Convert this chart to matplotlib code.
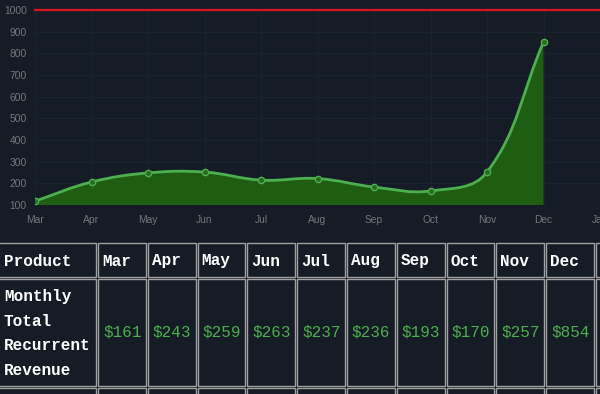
import numpy as np
import matplotlib.pyplot as plt
from matplotlib.path import Path
from matplotlib.patches import PathPatch, Rectangle

# chart data
months = ["Mar", "Apr", "May", "Jun", "Jul", "Aug", "Sep", "Oct", "Nov", "Dec", "Jan"]
mrr_chart = [118, 206, 248, 252, 215, 222, 183, 165, 252, 852]
target = 1000

# table data
table_months = ["Mar", "Apr", "May", "Jun", "Jul", "Aug", "Sep", "Oct", "Nov", "Dec"]
table_values = [161, 243, 259, 263, 237, 236, 193, 170, 257, 854]
row_label = ["Monthly", "Total", "Recurrent", "Revenue"]

bg = "#151c26"
fill_green = "#1f5d12"
line_green = "#4caf50"
grid_col = "#1b232e"
tick_col = "#74777c"
border_col = "#a0a0a0"

W, H = 600, 394
fig = plt.figure(figsize=(W/100, H/100), dpi=100, facecolor=bg)

# ---- line chart ----
ax = fig.add_axes([35/W, 1 - 205/H, 1 - 35/W, (205 - 10)/H])
ax.set_facecolor(bg)
ax.set_xlim(0, len(months) - 1)
ax.set_ylim(100, 1000)
ax.set_xticks(range(len(months)))
ax.set_xticklabels(months)
ax.set_yticks(np.arange(100, 1001, 100))
for s in ax.spines.values():
    s.set_visible(False)
ax.tick_params(length=0, colors=tick_col, labelsize=7.4, pad=7)
ax.tick_params(axis="y", pad=6)
for lab in ax.get_xticklabels() + ax.get_yticklabels():
    lab.set_family("Liberation Sans")
ax.grid(True, color=grid_col, lw=0.8)
ax.set_axisbelow(True)

# smooth curve like chart.js (tension 0.4), built in display space
x = np.arange(len(mrr_chart))
pts = ax.transData.transform(np.column_stack([x, mrr_chart]))
n = len(pts)
tension = 0.4
cp_prev = np.zeros_like(pts)
cp_next = np.zeros_like(pts)
for i in range(n):
    prev = pts[max(i - 1, 0)]
    cur = pts[i]
    nxt = pts[min(i + 1, n - 1)]
    d01 = np.hypot(*(cur - prev))
    d12 = np.hypot(*(nxt - cur))
    tot = d01 + d12
    fa = tension * d01 / tot if tot else 0
    fb = tension * d12 / tot if tot else 0
    cp_prev[i] = cur - fa * (nxt - prev)
    cp_next[i] = cur + fb * (nxt - prev)

verts = [pts[0]]
codes = [Path.MOVETO]
for i in range(n - 1):
    verts += [cp_next[i], cp_prev[i + 1], pts[i + 1]]
    codes += [Path.CURVE4] * 3
inv = ax.transData.inverted()
verts_d = inv.transform(np.array(verts))

line_path = Path(verts_d, codes)
fill_verts = np.vstack([verts_d, [[x[-1], 100], [x[0], 100], verts_d[0]]])
fill_codes = codes + [Path.LINETO, Path.LINETO, Path.CLOSEPOLY]
ax.add_patch(PathPatch(Path(fill_verts, fill_codes), facecolor=fill_green, edgecolor="none", zorder=2))
ax.add_patch(PathPatch(line_path, facecolor="none", edgecolor=line_green, lw=2.0, zorder=3))
ax.plot(x, mrr_chart, "o", ms=4.5, mfc="#2b6a22", mec=line_green, mew=1.0, zorder=4)

ax.axhline(target, color="#d9141e", lw=1.6, zorder=5, clip_on=False)

# ---- table ----
tb = fig.add_axes([0, 0, 1, 1])
tb.set_xlim(0, W)
tb.set_ylim(H, 0)
tb.axis("off")
tb.patch.set_alpha(0)

col_w = 49.8
gap = 2
rows = [(243, 277), (279, 386), (388, 420)]
col_edges = [(-4, 96)]
for k in range(len(table_months) + 1):
    left = 98 + k * col_w
    col_edges.append((left, left + col_w - gap))

for (y0, y1) in rows:
    for (x0, x1) in col_edges:
        tb.add_patch(Rectangle((x0, y0), x1 - x0, y1 - y0, facecolor=bg,
                               edgecolor=border_col, lw=1.0))

mono = "Liberation Mono"
hy = (rows[0][0] + rows[0][1]) / 2 + 1
tb.text(4, hy, "Product", color="white", fontsize=11.5, fontweight="bold",
        family=mono, va="center", ha="left")
for k, m in enumerate(table_months):
    tb.text(col_edges[k + 1][0] + 4, hy, m, color="white", fontsize=11.5,
            fontweight="bold", family=mono, va="center", ha="left")

dy = (rows[1][0] + rows[1][1]) / 2
for k, v in enumerate(table_values):
    tb.text(col_edges[k + 1][0] + 5, dy, "$%d" % v, color="#4cae4c", fontsize=11.5,
            family=mono, va="center", ha="left")

for j, word in enumerate(row_label):
    tb.text(4, 297 + j * 24.5, word, color="white", fontsize=11.5, fontweight="bold",
            family=mono, va="center", ha="left")

fig.savefig("out.png", dpi=100, facecolor=bg)
